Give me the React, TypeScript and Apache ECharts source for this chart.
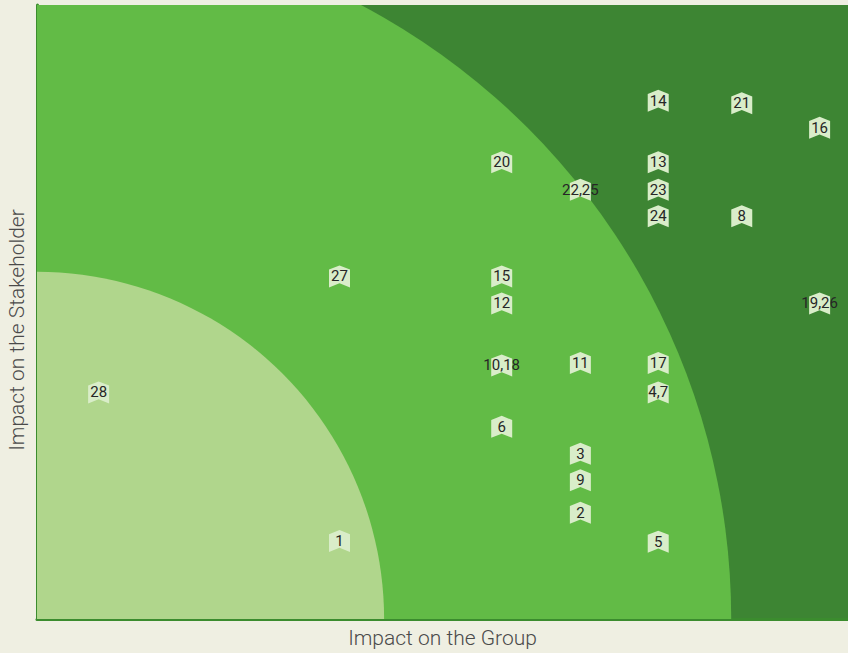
import React, { useEffect, useRef } from "react";
import * as echarts from "echarts";

// Issue labels and their positions (percent of axis range)
const issueLabels = ["1", "2", "3", "4,7", "5", "6", "8", "9", "10,18", "11", "12", "13", "14", "15", "16", "17", "19,26", "20", "21", "22,25", "23", "24", "27", "28"];
const impactOnGroup = [37.3, 67.0, 67.0, 76.6, 76.6, 57.3, 86.9, 67.0, 57.3, 67.0, 57.3, 76.6, 76.6, 57.3, 96.5, 76.6, 96.5, 57.3, 86.9, 67.0, 76.6, 76.6, 37.3, 7.6];
const impactOnStakeholder = [12.7, 17.3, 26.9, 36.9, 12.6, 31.3, 65.6, 22.6, 41.3, 41.7, 51.4, 74.4, 84.4, 55.8, 80.0, 41.7, 51.4, 74.4, 84.0, 69.9, 69.9, 65.6, 55.8, 36.9];

// Materiality zones: radii in x-axis units, centred at the origin
const zoneRadii = [42.8, 85.6];

const xAxisName = "Impact on the Group";
const yAxisName = "Impact on the Stakeholder";

const COLORS = {
  page: "#efefe2",
  dark: "#3d8533",
  mid: "#62bb46",
  light: "#b0d68c",
  axis: "#3b8c2e",
  marker: "#d9edc9",
  text: "#262626",
  title: "#4a4a4a",
};

const markerPath = "path://M0,4 L10.5,0 L21,4 L21,21 L10.5,17 L0,21 Z";

export default function App() {
  const ref = useRef<HTMLDivElement>(null);

  useEffect(() => {
    if (!ref.current) return;
    const chart = echarts.init(ref.current, undefined, { renderer: "svg" });
    const points = issueLabels.map((name, i) => ({
      name,
      value: [impactOnGroup[i], impactOnStakeholder[i]],
    }));

    chart.setOption({
      animation: false,
      backgroundColor: COLORS.page,
      textStyle: { fontFamily: "Roboto, 'Noto Sans', sans-serif" },
      grid: {
        left: 37,
        right: 0,
        top: 5,
        bottom: 31,
        show: true,
        backgroundColor: COLORS.dark,
        borderWidth: 0,
      },
      graphic: [
        {
          type: "text",
          x: 17,
          y: 330,
          rotation: Math.PI / 2,
          style: {
            text: yAxisName,
            fill: COLORS.title,
            fontSize: 21,
            fontWeight: 300,
            fontFamily: "Roboto, sans-serif",
            align: "center",
            verticalAlign: "middle",
          },
        },
      ],
      xAxis: {
        type: "value",
        min: 0,
        max: 100,
        name: xAxisName,
        nameLocation: "middle",
        nameGap: 8,
        nameTextStyle: { fontSize: 21, color: COLORS.title, fontWeight: 300, verticalAlign: "top" },
        axisLine: { show: true, lineStyle: { color: COLORS.axis, width: 3 } },
        axisTick: { show: false },
        axisLabel: { show: false },
        splitLine: { show: false },
      },
      yAxis: {
        type: "value",
        min: 0,
        max: 100,
        axisLine: { show: true, lineStyle: { color: COLORS.axis, width: 3 } },
        axisTick: { show: false },
        axisLabel: { show: false },
        splitLine: { show: false },
      },
      series: [
        {
          type: "custom",
          silent: true,
          clip: true,
          z: 1,
          data: [[0, 0]],
          renderItem: (params: any, api: any) => {
            const c = api.coord([0, 0]);
            const rLight = api.size([zoneRadii[0], 0])[0];
            const rMid = api.size([zoneRadii[1], 0])[0];
            return {
              type: "group",
              children: [
                { type: "circle", shape: { cx: c[0], cy: c[1], r: rMid }, style: { fill: COLORS.mid } },
                { type: "circle", shape: { cx: c[0], cy: c[1], r: rLight }, style: { fill: COLORS.light } },
              ],
            };
          },
        },
        {
          type: "scatter",
          z: 3,
          symbol: markerPath,
          symbolSize: [21, 22],
          itemStyle: { color: COLORS.marker, opacity: 1 },
          label: {
            show: true,
            position: "inside",
            formatter: "{b}",
            color: COLORS.text,
            fontSize: 15,
            fontFamily: "Roboto, sans-serif",
          },
          data: points,
        },
      ],
    });

    return () => chart.dispose();
  }, []);

  return (
    <div
      ref={ref}
      style={{ position: "absolute", left: 0, top: 0, width: 848, height: 653 }}
    />
  );
}
